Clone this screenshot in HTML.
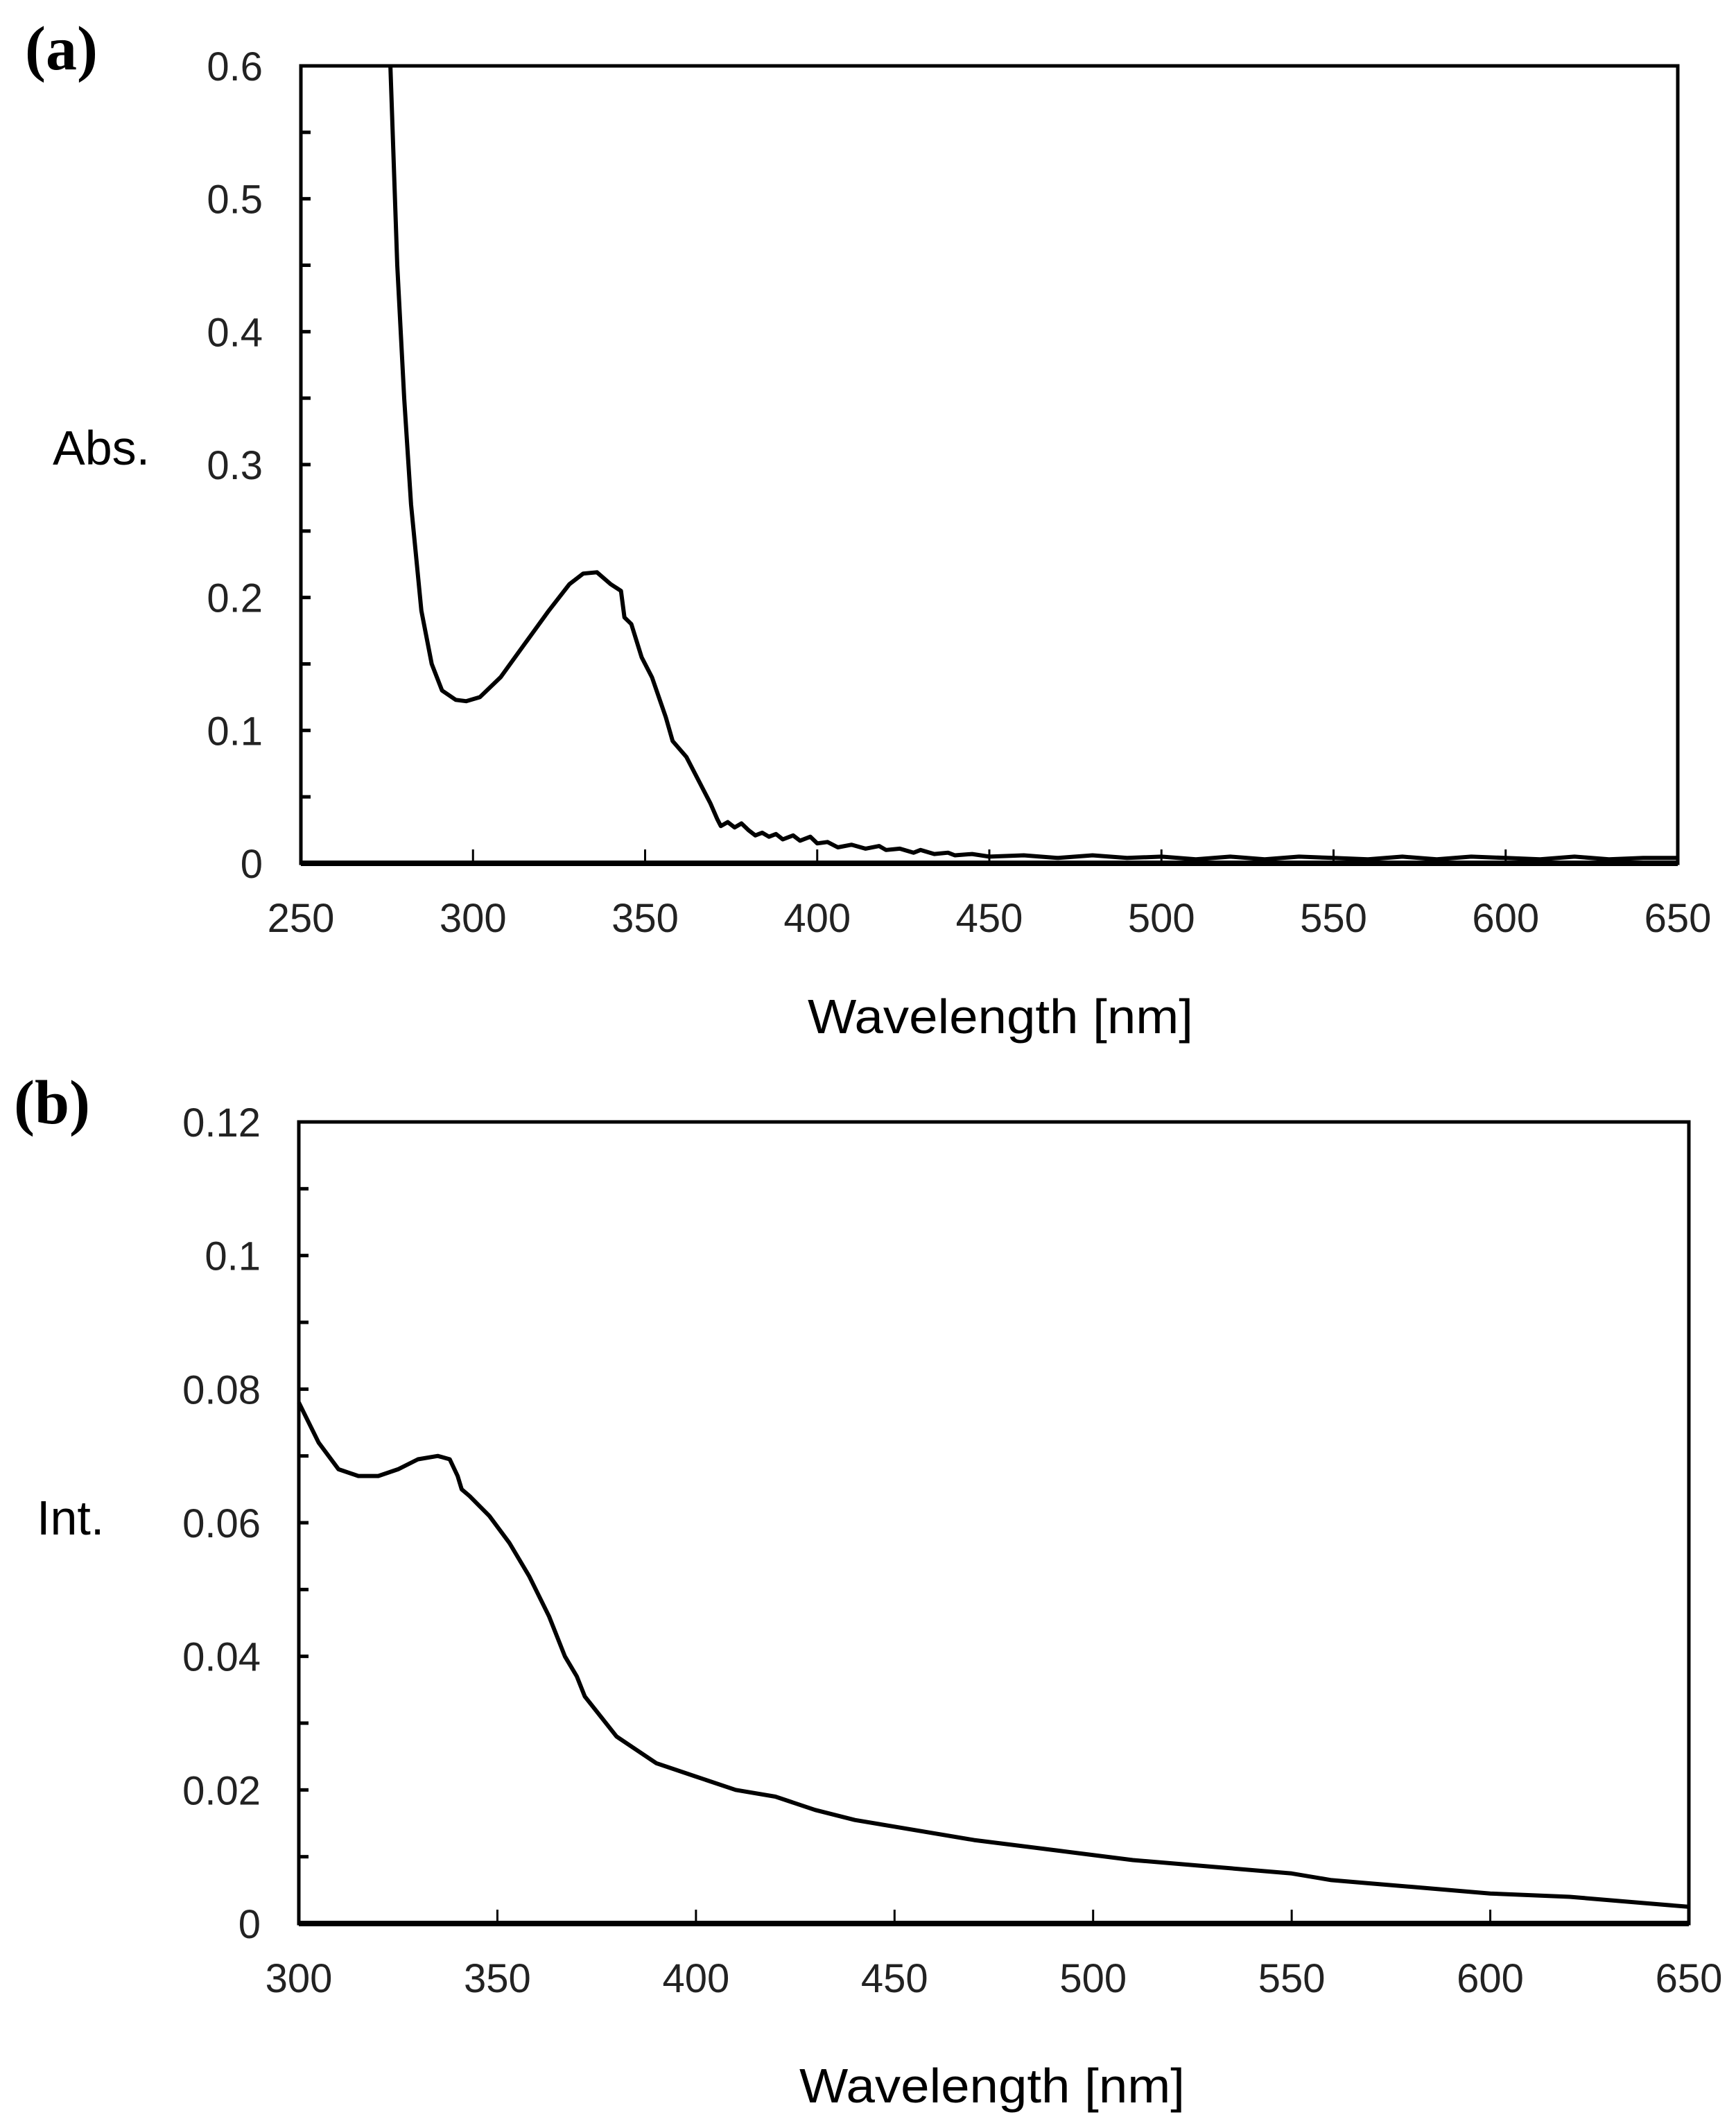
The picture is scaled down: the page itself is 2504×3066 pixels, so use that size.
<!DOCTYPE html>
<html><head><meta charset="utf-8"><style>
html,body{margin:0;padding:0;background:#fff;}
svg{display:block;}
.tk{font-family:"Liberation Sans",sans-serif;font-size:58px;fill:#222;}
.tt{font-family:"Liberation Sans",sans-serif;font-size:70px;fill:#000;}
.pl{font-family:"Liberation Serif",serif;font-size:90px;font-weight:bold;fill:#000;}
</style></head><body>
<svg id="fig" width="2504" height="3066" viewBox="0 0 2504 3066" xmlns="http://www.w3.org/2000/svg">
<text class="pl" x="36" y="100">(a)</text>
<text class="pl" x="20" y="1620">(b)</text>
<text class="tt" x="76" y="670">Abs.</text>
<text class="tt" x="53" y="2213">Int.</text>
<g id="ga"></g>
<g id="gb"></g>
</svg>
<script>
const aX=[276,278,280,282,285,288,291,295,298,302,308,315,322,328,332,336,340,343,344,346,349,352,356,358,362,366,369,371,372,374,376,378,380,382,384,386,388,390,393,395,398,400,403,406,410,414,418,420,424,428,430,434,438,440,445,450,460,470,480,490,500,510,520,530,540,550,560,570,580,590,600,610,620,630,640,650];
const aY=[0.6,0.45,0.35,0.27,0.19,0.15,0.13,0.123,0.122,0.125,0.14,0.165,0.19,0.21,0.218,0.219,0.21,0.205,0.185,0.18,0.155,0.14,0.11,0.092,0.08,0.06,0.045,0.033,0.028,0.031,0.027,0.03,0.025,0.021,0.023,0.02,0.022,0.018,0.021,0.017,0.02,0.015,0.016,0.012,0.014,0.011,0.013,0.01,0.011,0.008,0.01,0.007,0.008,0.006,0.007,0.005,0.006,0.004,0.006,0.004,0.005,0.003,0.005,0.003,0.005,0.004,0.003,0.005,0.003,0.005,0.004,0.003,0.005,0.003,0.004,0.004];
const bX=[300,305,310,315,320,325,330,335,338,340,341,343,348,353,358,363,367,370,372,376,380,385,390,400,410,420,430,440,450,470,490,510,530,550,560,570,580,600,620,640,650];
const bY=[0.078,0.072,0.068,0.067,0.067,0.068,0.0695,0.07,0.0695,0.067,0.065,0.064,0.061,0.057,0.052,0.046,0.04,0.037,0.034,0.031,0.028,0.026,0.024,0.022,0.02,0.019,0.017,0.0155,0.0145,0.0125,0.011,0.0095,0.0085,0.0075,0.0065,0.006,0.0055,0.0045,0.004,0.003,0.0025];
const aXTicks=[250,300,350,400,450,500,550,600,650];
const aYTicks=[0,0.1,0.2,0.3,0.4,0.5,0.6];
const aYLabels=["0","0.1","0.2","0.3","0.4","0.5","0.6"];
const bXTicks=[300,350,400,450,500,550,600,650];
const bYTicks=[0,0.02,0.04,0.06,0.08,0.1,0.12];
const bYLabels=["0","0.02","0.04","0.06","0.08","0.1","0.12"];
const NS="http://www.w3.org/2000/svg";
function mk(g,t,attrs){const e=document.createElementNS(NS,t);for(const k in attrs)e.setAttribute(k,attrs[k]);g.appendChild(e);return e;}
function draw(g,cfg){
 const sx=v=>cfg.x0+(v-cfg.xmin)/(cfg.xmax-cfg.xmin)*(cfg.x1-cfg.x0);
 const sy=v=>cfg.y0-(v-cfg.ymin)/(cfg.ymax-cfg.ymin)*(cfg.y0-cfg.y1);
 const fr=mk(g,'rect',{x:cfg.x0,y:cfg.y1,width:cfg.x1-cfg.x0,height:cfg.y0-cfg.y1,fill:'none',stroke:'#000','stroke-width':cfg.fw});
 
 
 const ba=mk(g,'line',{x1:cfg.x0,x2:cfg.x1,y1:cfg.y0,y2:cfg.y0,stroke:'#000','stroke-width':cfg.fw+3});
 
 
 cfg.xt.forEach(v=>{
  const l=mk(g,'line',{x1:sx(v),x2:sx(v),y1:cfg.y0,y2:cfg.y0-20,stroke:'#000','stroke-width':3});
  
  
  const t=mk(g,'text',{x:sx(v),y:cfg.y0+99,'text-anchor':'middle',class:'tk'});t.textContent=v;
  
  
 });
 for(let i=0;i<cfg.yt.length;i++){
  const t=mk(g,'text',{x:cfg.x0-55,y:sy(cfg.yt[i])+21,'text-anchor':'end',class:'tk'});t.textContent=cfg.yl[i];
  
  
  if(i<cfg.yt.length-1){
   [cfg.yt[i],(cfg.yt[i]+cfg.yt[i+1])/2].forEach(v=>{
    const l=mk(g,'line',{x1:cfg.x0,x2:cfg.x0+14,y1:sy(v),y2:sy(v),stroke:'#000','stroke-width':5});
    
    
   });
  }
 }
 let d='';for(let i=0;i<cfg.dx.length;i++){d+=(i?'L':'M')+sx(cfg.dx[i]).toFixed(1)+' '+sy(cfg.dy[i]).toFixed(1);}
 const p=mk(g,'path',{d:d,fill:'none',stroke:'#000','stroke-width':6,'stroke-linejoin':'round'});
 
 
 const tt=mk(g,'text',{x:cfg.tx,y:cfg.ty,class:'tt',textLength:556,lengthAdjust:'spacingAndGlyphs'});tt.textContent='Wavelength [nm]';
 
 
}
draw(document.getElementById('ga'),{x0:434,x1:2420,y0:1245,y1:95,xmin:250,xmax:650,ymin:0,ymax:0.6,fw:5,xt:aXTicks,yt:aYTicks,yl:aYLabels,dx:aX,dy:aY,tx:1165,ty:1490});
draw(document.getElementById('gb'),{x0:431,x1:2436,y0:2774,y1:1618,xmin:300,xmax:650,ymin:0,ymax:0.12,fw:5,xt:bXTicks,yt:bYTicks,yl:bYLabels,dx:bX,dy:bY,tx:1153,ty:3032});
</script>
</body></html>
